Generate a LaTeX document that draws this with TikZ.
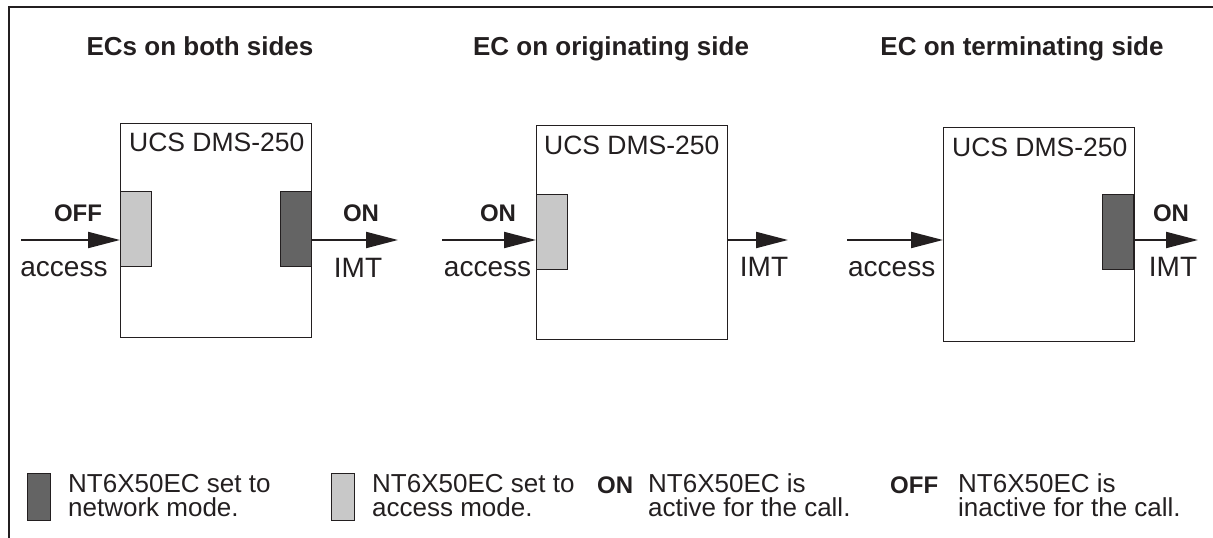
\documentclass[tikz,border=0pt]{standalone}
\usepackage{fontspec}
\setmainfont{Liberation Sans}
\usetikzlibrary{arrows.meta}
\definecolor{ink}{HTML}{231F20}
\definecolor{lightec}{HTML}{C8C8C8}
\definecolor{darkec}{HTML}{646464}
\tikzset{
  txt/.style={inner sep=0pt, anchor=base, text=ink, font=\fontsize{28}{28}\selectfont},
  ttl/.style={inner sep=0pt, anchor=base, text=ink, font=\fontsize{26}{26}\selectfont\bfseries},
  sta/.style={inner sep=0pt, anchor=base, text=ink, font=\fontsize{24}{24}\selectfont\bfseries},
  ucs/.style={inner sep=0pt, anchor=base west, text=ink, font=\fontsize{26.5}{26.5}\selectfont},
  leg/.style={inner sep=0pt, anchor=base west, text=ink, align=left, font=\fontsize{26}{24}\selectfont},
  dms/.style={draw=ink, line width=1pt, fill=white, anchor=north west, inner sep=0pt, minimum width=191pt, minimum height=214pt},
  ecl/.style={draw=ink, line width=1pt, fill=lightec, anchor=north west, inner sep=0pt, minimum width=31pt, minimum height=75pt},
  ecd/.style={draw=ink, line width=1pt, fill=darkec, anchor=north west, inner sep=0pt, minimum width=31pt, minimum height=75pt},
  legl/.style={draw=ink, line width=0.8pt, fill=lightec, anchor=north west, inner sep=0pt, minimum width=23pt, minimum height=47pt},
  legd/.style={draw=ink, line width=0.8pt, fill=darkec, anchor=north west, inner sep=0pt, minimum width=23pt, minimum height=47pt},
  arr/.style={draw=ink, line width=2pt, -{Triangle[length=32pt,width=16pt]}},
}
\begin{document}
\begin{tikzpicture}[x=1pt,y=-1pt]
\useasboundingbox (0,0) rectangle (1213,538);
% frame
\draw[ink, line width=1.3pt] (9,538) -- (9,7) -- (1213,7);

% titles
\node[ttl] (t1) at (200,55.7) {ECs on both sides};
\node[ttl] (t2) at (611,55.7) {EC on originating side};
\node[ttl] (t3) at (1022,55.7) {EC on terminating side};

% ---- panel 1
\node[dms] (b1) at (120,123) {};
\node[ucs] (u1) at (129,151.7) {UCS DMS-250};
\node[ecl] (l1) at (120,191) {};
\node[ecd] (d1) at (280,191) {};
\coordinate (i1) at (21,240);
\coordinate (o1) at (398,240);
\draw[arr] (i1) -- (i1 -| l1.west);
\draw[arr] (d1.east |- o1) -- (o1);
\node[sta] (s1a) at (78,221.7) {OFF};
\node[txt] (a1) at (64,276.7) {access};
\node[sta] (s1b) at (361,221.7) {ON};
\node[txt] (m1) at (358,277) {IMT};

% ---- panel 2
\node[dms] (b2) at (536,125) {};
\node[ucs] (u2) at (544,154) {UCS DMS-250};
\node[ecl] (l2) at (536,194) {};
\coordinate (i2) at (442,240);
\coordinate (o2) at (788,240);
\draw[arr] (i2) -- (i2 -| l2.west);
\draw[arr] (b2.east |- o2) -- (o2);
\node[sta] (s2a) at (498,221.7) {ON};
\node[txt] (a2) at (487.5,276.7) {access};
\node[txt] (m2) at (764,276.7) {IMT};

% ---- panel 3
\node[dms] (b3) at (943,127) {};
\node[ucs] (u3) at (952,156.7) {UCS DMS-250};
\node[ecd] (d3) at (1102,194) {};
\coordinate (i3) at (847,240);
\coordinate (o3) at (1198,240);
\draw[arr] (i3) -- (i3 -| b3.west);
\draw[arr] (d3.east |- o3) -- (o3);
\node[sta] (s3a) at (1171,221.7) {ON};
\node[txt] (a3) at (891.7,276) {access};
\node[txt] (m3) at (1173,276) {IMT};

% ---- legend
\node[legd] (kd) at (27,473) {};
\node[leg] (kdt) at (68,516.7) {NT6X50EC set to\\network mode.};
\node[legl] (kl) at (331,473) {};
\node[leg] (klt) at (372,516.7) {NT6X50EC set to\\access mode.};
\node[sta, anchor=base west] (kon) at (597,493) {ON};
\node[leg] (kont) at (648,516.7) {NT6X50EC is\\active for the call.};
\node[sta, anchor=base west] (koff) at (890,493) {OFF};
\node[leg] (kofft) at (958,516.7) {NT6X50EC is\\inactive for the call.};
\end{tikzpicture}
\end{document}
